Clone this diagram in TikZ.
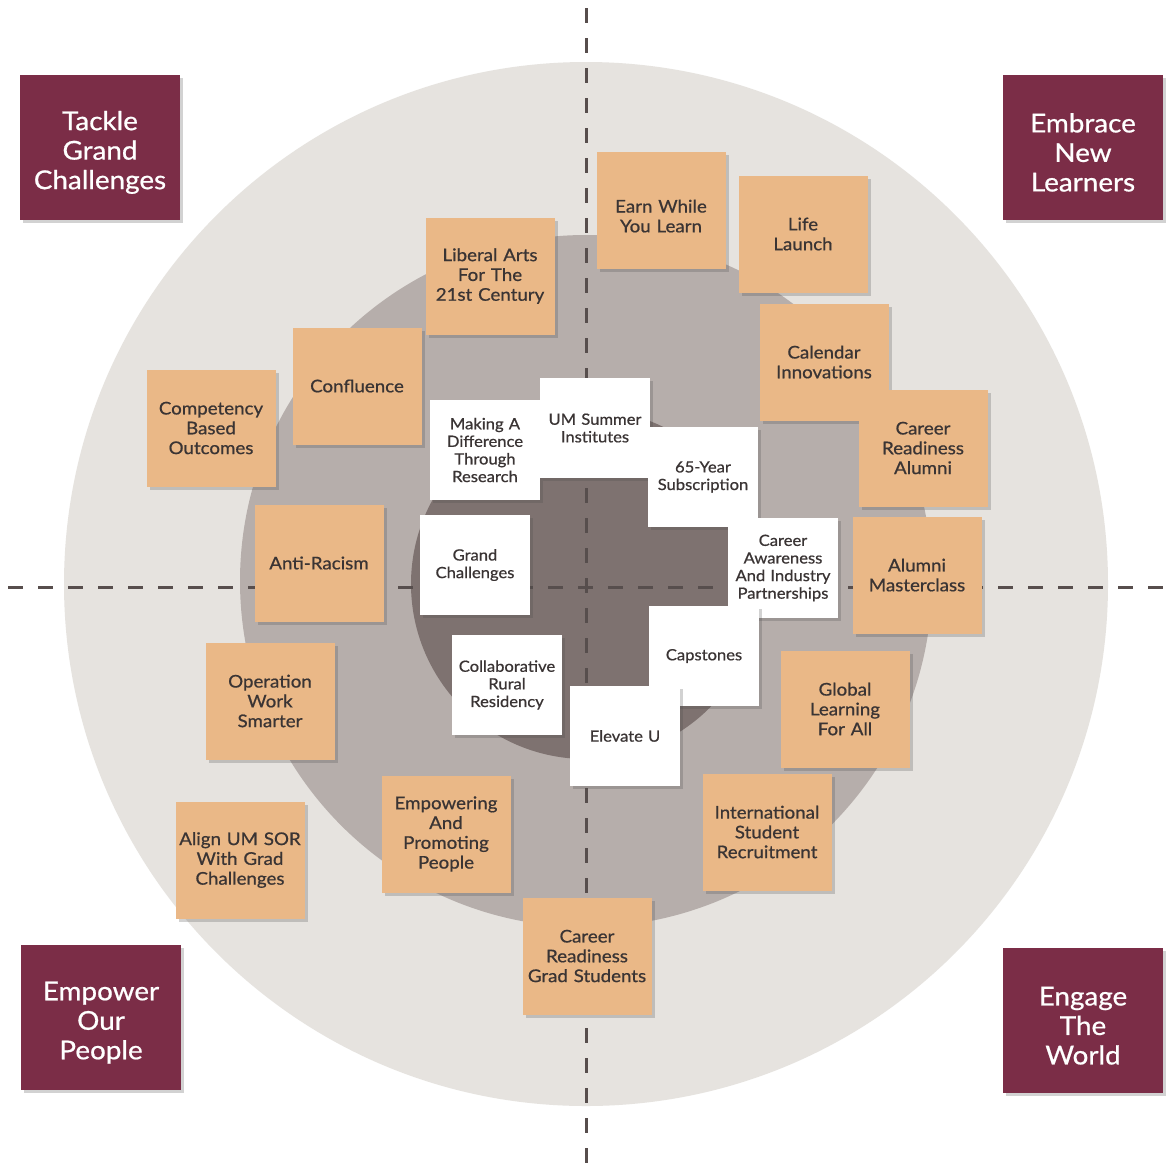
\documentclass[tikz,border=0pt]{standalone}
\usepackage{fontspec}
\setmainfont{Lato}[FakeBold=0.7, FakeStretch=1.07]
\usetikzlibrary{shadows}
\definecolor{outerc}{HTML}{E6E3DF}
\definecolor{midc}{HTML}{B6AEAB}
\definecolor{innerc}{HTML}{7E7270}
\definecolor{dashc}{HTML}{574E4D}
\definecolor{notec}{HTML}{EAB887}
\definecolor{goalc}{HTML}{7B2D47}
\definecolor{txtc}{HTML}{3A3434}
\tikzset{
  axisline/.style={draw=dashc, line width=3pt, dash pattern=on 15pt off 15pt},
  shad/.style={drop shadow={opacity=0.25, shadow xshift=3pt, shadow yshift=-3pt, fill=black!70}},
  tdown/.style={execute at begin node={\rule{0pt}{#1}}},
  onote/.style={shad, fill=notec, minimum width=129pt, minimum height=117pt, text width=127pt,
    align=center, inner sep=0pt, text=txtc, font=\fontsize{17.5}{19.8}\selectfont},
  wnote/.style={shad, fill=white, minimum width=110pt, minimum height=100pt, text width=108pt,
    align=center, inner sep=0pt, text=txtc, font=\fontsize{15.5}{17.6}\selectfont},
  goal/.style={shad, fill=goalc, minimum width=160pt, minimum height=145pt, text width=156pt,
    align=center, inner sep=0pt, text=white, font=\fontsize{26}{29.5}\selectfont, tdown=30pt}
}
\begin{document}
\begin{tikzpicture}[x=1pt, y=-1pt]
\useasboundingbox[fill=white] (0,0) rectangle (1172,1165);
% rings
\coordinate (c) at (586,584);
\coordinate (cm) at (586,581);
\fill[outerc] (c) circle (522);
\fill[midc] (cm) circle (346);
\fill[innerc] (c) circle (175);
% axes
\coordinate (vt) at (586,8);
\coordinate (vb) at (586,1165);
\coordinate (hl) at (8,587);
\coordinate (hr) at (1168,587);
\draw[axisline] (vt) -- (vb);
\draw[axisline] (hl) -- (hr);
% goals
\node[goal] (tackle) at (100,147) {Tackle\\Grand\\Challenges};
\node[goal] (embrace) at (1083,147) {Embrace\\New\\Learners};
\node[goal] (empower) at (101,1017) {Empower\\Our\\People};
\node[goal] (engage) at (1083,1020) {Engage\\The\\World};
% orange notes
\node[onote] (liberal) at (490,276) {Liberal Arts\\For The\\21st Century};
\node[onote, tdown=25pt] (earn) at (661,210) {Earn While\\You Learn};
\node[onote] (life) at (803,234) {Life\\Launch};
\node[onote] (calendar) at (824,362) {Calendar\\Innovations};
\node[onote] (cralumni) at (923,448) {Career\\Readiness\\Alumni};
\node[onote] (master) at (917,575) {Alumni\\Masterclass};
\node[onote] (global) at (845,709) {Global\\Learning\\For All};
\node[onote] (intl) at (767,832) {International\\Student\\Recruitment};
\node[onote] (crgrad) at (587,956) {Career\\Readiness\\Grad Students};
\node[onote] (empowering) at (446,834) {Empowering\\And\\Promoting\\People};
\node[onote] (align) at (240,860) {Align UM SOR\\With Grad\\Challenges};
\node[onote] (operation) at (270,701) {Operation\\Work\\Smarter};
\node[onote] (anti) at (319,563) {Anti-Racism};
\node[onote] (competency) at (211,428) {Competency\\Based\\Outcomes};
\node[onote] (confluence) at (357,386) {Confluence};
% white notes
\node[wnote] (making) at (485,450) {Making A\\Difference\\Through\\Research};
\node[wnote] (summer) at (595,428) {UM Summer\\Institutes};
\node[wnote] (sub65) at (703,477) {65-Year\\Subscription};
\node[wnote] (grand) at (475,565) {Grand\\Challenges};
\node[wnote] (awareness) at (783,568) {Career\\Awareness\\And Industry\\Partnerships};
\node[wnote] (capstones) at (704,656) {Capstones};
\node[wnote] (collab) at (507,685) {Collaborative\\Rural\\Residency};
\node[wnote] (elevate) at (625,736) {Elevate U};
\end{tikzpicture}
\end{document}
